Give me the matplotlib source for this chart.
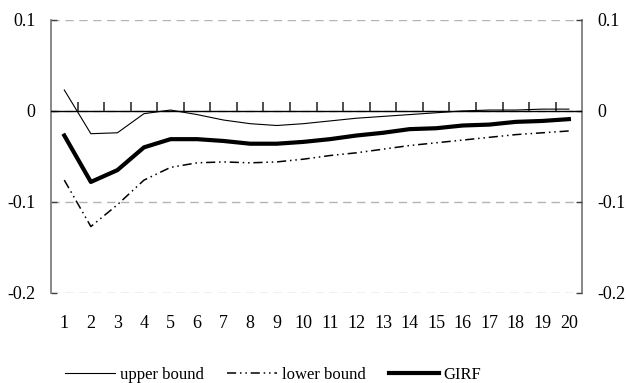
import matplotlib
matplotlib.use("Agg")
import matplotlib.pyplot as plt
from matplotlib.markers import TICKUP
import numpy as np

periods = list(range(1, 21))

upper_bound = [0.023, -0.025, -0.024, -0.003, 0.001, -0.004, -0.010, -0.014, -0.016, -0.014,
               -0.011, -0.008, -0.006, -0.004, -0.002, 0.000, 0.001, 0.001, 0.002, 0.002]
lower_bound = [-0.076, -0.127, -0.103, -0.076, -0.062, -0.057, -0.056, -0.057, -0.056, -0.053,
               -0.049, -0.046, -0.042, -0.038, -0.035, -0.032, -0.029, -0.026, -0.024, -0.022]
girf = [-0.027, -0.078, -0.065, -0.040, -0.031, -0.031, -0.033, -0.036, -0.036, -0.034,
        -0.031, -0.027, -0.024, -0.020, -0.019, -0.016, -0.015, -0.012, -0.011, -0.009]

y_ticks = [0.1, 0.0, -0.1, -0.2]
y_tick_labels = ["0.1", "0", "-0.1", "-0.2"]

plt.rcParams.update({
    "font.family": ["Liberation Serif", "DejaVu Serif"],
    "font.size": 13,
})

fig = plt.figure(figsize=(6.26, 3.83), dpi=100)
ax = fig.add_axes([0.0815, 0.235, 0.8485, 0.713])

ax.plot(periods, upper_bound, color="black", linewidth=0.8, label="upper bound", zorder=4)
ax.plot(periods, lower_bound, color="black", linewidth=1.1,
        dashes=(6, 2.5, 1, 2.5, 1, 2.5), label="lower bound", zorder=4)
ax.plot(periods, girf, color="black", linewidth=3.0, label="GIRF", zorder=4)

ax.set_xlim(0.5, 20.5)
ax.set_ylim(-0.2, 0.1)

# dashed horizontal gridlines, grey side frames
ax.set_yticks(y_ticks)
ax.set_yticklabels(y_tick_labels)
ax.yaxis.grid(True, color="#b4b4b4", linewidth=1.0, linestyle=(0, (6, 4)))
ax.spines["top"].set_visible(False)
for side in ("left", "right"):
    ax.spines[side].set_color("#7f7f7f")
    ax.spines[side].set_linewidth(1.3)
    ax.spines[side].set_zorder(1)
ax.tick_params(axis="y", direction="in", length=4, width=1.0, color="#404040",
               left=True, right=True, labelleft=True, labelright=True, pad=11)

# category labels along the bottom edge
ax.spines["bottom"].set_visible(False)
ax.set_xticks(periods)
ax.set_xticklabels([str(p) for p in periods])
ax.tick_params(axis="x", length=0, pad=16)

# zero line with small upward ticks between categories
ax.axhline(0, color="black", linewidth=1.0, zorder=3)
boundaries = np.array(periods[:-1]) + 0.5
ax.plot(boundaries, np.zeros_like(boundaries), linestyle="none", marker=TICKUP,
        markersize=6.5, markeredgewidth=1.2, color="#303030", zorder=3)

ax.legend(loc="upper center", bbox_to_anchor=(0.418, -0.215), ncol=3, frameon=False,
          handlelength=3.0, handletextpad=0.3, columnspacing=1.4, fontsize=12)

fig.savefig("out.png", dpi=100, facecolor="white")
